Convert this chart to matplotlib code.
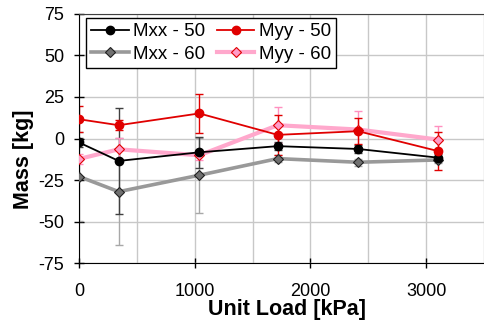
import matplotlib
matplotlib.use("Agg")
import matplotlib.pyplot as plt
from matplotlib.ticker import MultipleLocator

plt.rcParams['font.family'] = ['Liberation Sans', 'DejaVu Sans']
plt.rcParams['axes.unicode_minus'] = False

# unit load [kPa]
load = [0, 343, 1039, 1717, 2412, 3099]

# mass values [kg] and error bar half widths
mxx_50 = [-2.4, -13.5, -8.3, -4.6, -6.3, -11.5]
mxx_50_err = [3.0, 32.0, 9.3, 2.5, 2.5, 2.0]
myy_50 = [11.6, 8.0, 15.1, 2.2, 4.4, -7.5]
myy_50_err = [7.7, 3.0, 11.5, 12.0, 8.0, 11.6]
mxx_60 = [-22.9, -32.0, -22.1, -12.1, -14.3, -12.9]
mxx_60_err = [27.0, 32.4, 22.5, 2.0, 2.0, 2.0]
myy_60 = [-12.3, -6.5, -10.1, 8.0, 5.4, -0.6]
myy_60_err = [3.0, 7.0, 3.0, 11.0, 11.3, 8.2]

fig = plt.figure(figsize=(4.85, 3.24), dpi=100)
ax = fig.add_axes([0.163, 0.188, 0.835, 0.769])

# error bars first so that lines sit on top
ax.errorbar(load, mxx_60, yerr=mxx_60_err, fmt='none', ecolor='#a8a8a8', elinewidth=1, capsize=3, zorder=2)
ax.errorbar(load, mxx_50, yerr=mxx_50_err, fmt='none', ecolor='#404040', elinewidth=1, capsize=3, zorder=2)
ax.errorbar(load, myy_60, yerr=myy_60_err, fmt='none', ecolor='#ff90c0', elinewidth=1, capsize=3, zorder=2)
ax.errorbar(load, myy_50, yerr=myy_50_err, fmt='none', ecolor='#e00000', elinewidth=1, capsize=3, zorder=2)

h1, = ax.plot(load, mxx_50, color='black', lw=1.3, marker='o', ms=6,
              mfc='black', mec='black', label='Mxx - 50', zorder=4)
h3, = ax.plot(load, mxx_60, color='#999999', lw=2.6, marker='D', ms=5.5,
              mfc='#707070', mec='#202020', mew=0.8, label='Mxx - 60', zorder=3)
h4, = ax.plot(load, myy_60, color='#ffa8cc', lw=3, marker='D', ms=5.5,
              mfc='#ff9cc8', mec='#e00000', mew=0.8, label='Myy - 60', zorder=3)
h2, = ax.plot(load, myy_50, color='#e00000', lw=1.3, marker='o', ms=6,
              mfc='#e00000', mec='#e00000', label='Myy - 50', zorder=4)

ax.set_xlim(0, 3500)
ax.set_ylim(-75, 75)
ax.xaxis.set_major_locator(MultipleLocator(1000))
ax.xaxis.set_minor_locator(MultipleLocator(500))
ax.yaxis.set_major_locator(MultipleLocator(25))

ax.grid(True, which='both', color='#c8c8c8', lw=1)
ax.set_axisbelow(True)

ax.spines['right'].set_visible(False)
ax.spines['top'].set_color('#404040')
ax.tick_params(which='major', direction='inout', length=7, width=1, labelsize=13)
ax.tick_params(axis='x', which='major', pad=11)
ax.tick_params(axis='y', which='major', pad=7)
ax.tick_params(which='minor', length=0)

ax.set_xlabel('Unit Load [kPa]', fontsize=15.5, fontweight='bold')
ax.set_ylabel('Mass [kg]', fontsize=15.5, fontweight='bold')
ax.xaxis.set_label_coords(0.514, -0.145)
ax.yaxis.set_label_coords(-0.112, 0.416)

leg = ax.legend(handles=[h1, h3, h2, h4], ncol=2, loc='upper left',
                bbox_to_anchor=(0.017, 0.984), fontsize=13.5, frameon=True,
                fancybox=False, edgecolor='black', framealpha=1,
                borderpad=0.28, handlelength=2.0, handletextpad=0.25,
                columnspacing=0.6, labelspacing=0.28, borderaxespad=0)
leg.get_frame().set_linewidth(1)

fig.savefig('out.png', dpi=100)
